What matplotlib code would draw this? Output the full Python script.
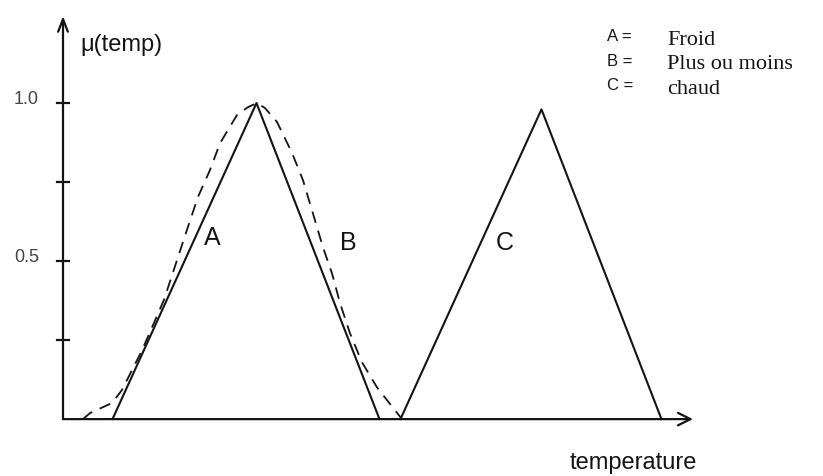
import matplotlib
matplotlib.use("Agg")
import matplotlib.pyplot as plt

# fonctions d'appartenance (temperature en unites arbitraires)
temp_A = [3.3, 12.9, 21.1]
mu_A = [0.0, 1.0, 0.0]

temp_C = [22.5, 31.9, 39.9]
mu_C = [0.0, 0.98, 0.0]

# courbe B en pointilles (en cloche, un peu plus large que A)
temp_B = [1.33, 1.8, 3.27, 3.93, 5.27, 6.73, 7.67, 8.33, 9.0, 9.8, 10.47, 11.6, 12.33, 12.93,
          13.47, 14.27, 15.27, 16.0, 16.6, 17.33, 17.93, 18.47, 19.13, 19.93, 20.93, 22.13, 22.6]
mu_B = [0.0, 0.019, 0.051, 0.092, 0.218, 0.377, 0.513, 0.608, 0.703, 0.788, 0.873, 0.962, 0.987, 1.0,
        0.984, 0.94, 0.842, 0.756, 0.661, 0.544, 0.462, 0.367, 0.272, 0.18, 0.101, 0.028, 0.0]

y_ticks = [0.25, 0.5, 0.75, 1.0]
y_labels = {0.5: "0.5", 1.0: "1.0"}

legend_letters = ["A =", "B =", "C ="]
legend_words = ["Froid", "Plus ou moins", "chaud"]

ink = "#141414"

fig = plt.figure(figsize=(8.23, 4.76), dpi=100)
ax = fig.add_axes([0, 0, 1, 1])
ax.set_xlim(-4.2, 50.67)
ax.set_ylim(-0.18, 1.326)
ax.axis("off")

# axes avec fleches
ax.annotate("", xy=(42.0, 0), xytext=(0, 0),
            arrowprops=dict(arrowstyle="->,head_length=0.9,head_width=0.45", lw=1.6, color=ink,
                            shrinkA=0, shrinkB=0))
ax.annotate("", xy=(0, 1.275), xytext=(0, 0),
            arrowprops=dict(arrowstyle="->,head_length=0.9,head_width=0.35", lw=1.6, color=ink,
                            shrinkA=0, shrinkB=0))
for t in y_ticks:
    ax.plot([-0.4, 0.4], [t, t], color=ink, lw=1.6)
    if t in y_labels:
        ax.text(-1.6, t + 0.01, y_labels[t], ha="right", va="center",
                fontsize=13, color="#444444", family="Liberation Sans")

# fonctions
ax.plot(temp_A, mu_A, color=ink, lw=1.5)
ax.plot(temp_C, mu_C, color=ink, lw=1.5)
ax.plot(temp_B, mu_B, color=ink, lw=1.3, linestyle=(0, (6.5, 4.5)))

ax.text(9.93, 0.573, "A", ha="center", va="center", fontsize=18, color=ink, family="Liberation Sans")
ax.text(19.0, 0.557, "B", ha="center", va="center", fontsize=18, color=ink, family="Liberation Sans")
ax.text(29.47, 0.557, "C", ha="center", va="center", fontsize=18, color=ink, family="Liberation Sans")

ax.text(1.13, 1.185, "\u03bc(temp)", ha="left", va="center", fontsize=17, color=ink, family="Liberation Sans")
ax.text(38.0, -0.14, "temperature", ha="center", va="center", fontsize=17, color=ink,
        family="Liberation Sans")

# legende
for i in range(3):
    yy = 1.21 - i * 0.077
    ax.text(36.3, yy, legend_letters[i], ha="left", va="center", fontsize=12, color=ink,
            family="Liberation Sans")
    ax.text(40.3, yy - 0.012, legend_words[i], ha="left", va="center", fontsize=16, color=ink,
            family="Liberation Serif")

fig.savefig("out.png", dpi=100, facecolor="white")
